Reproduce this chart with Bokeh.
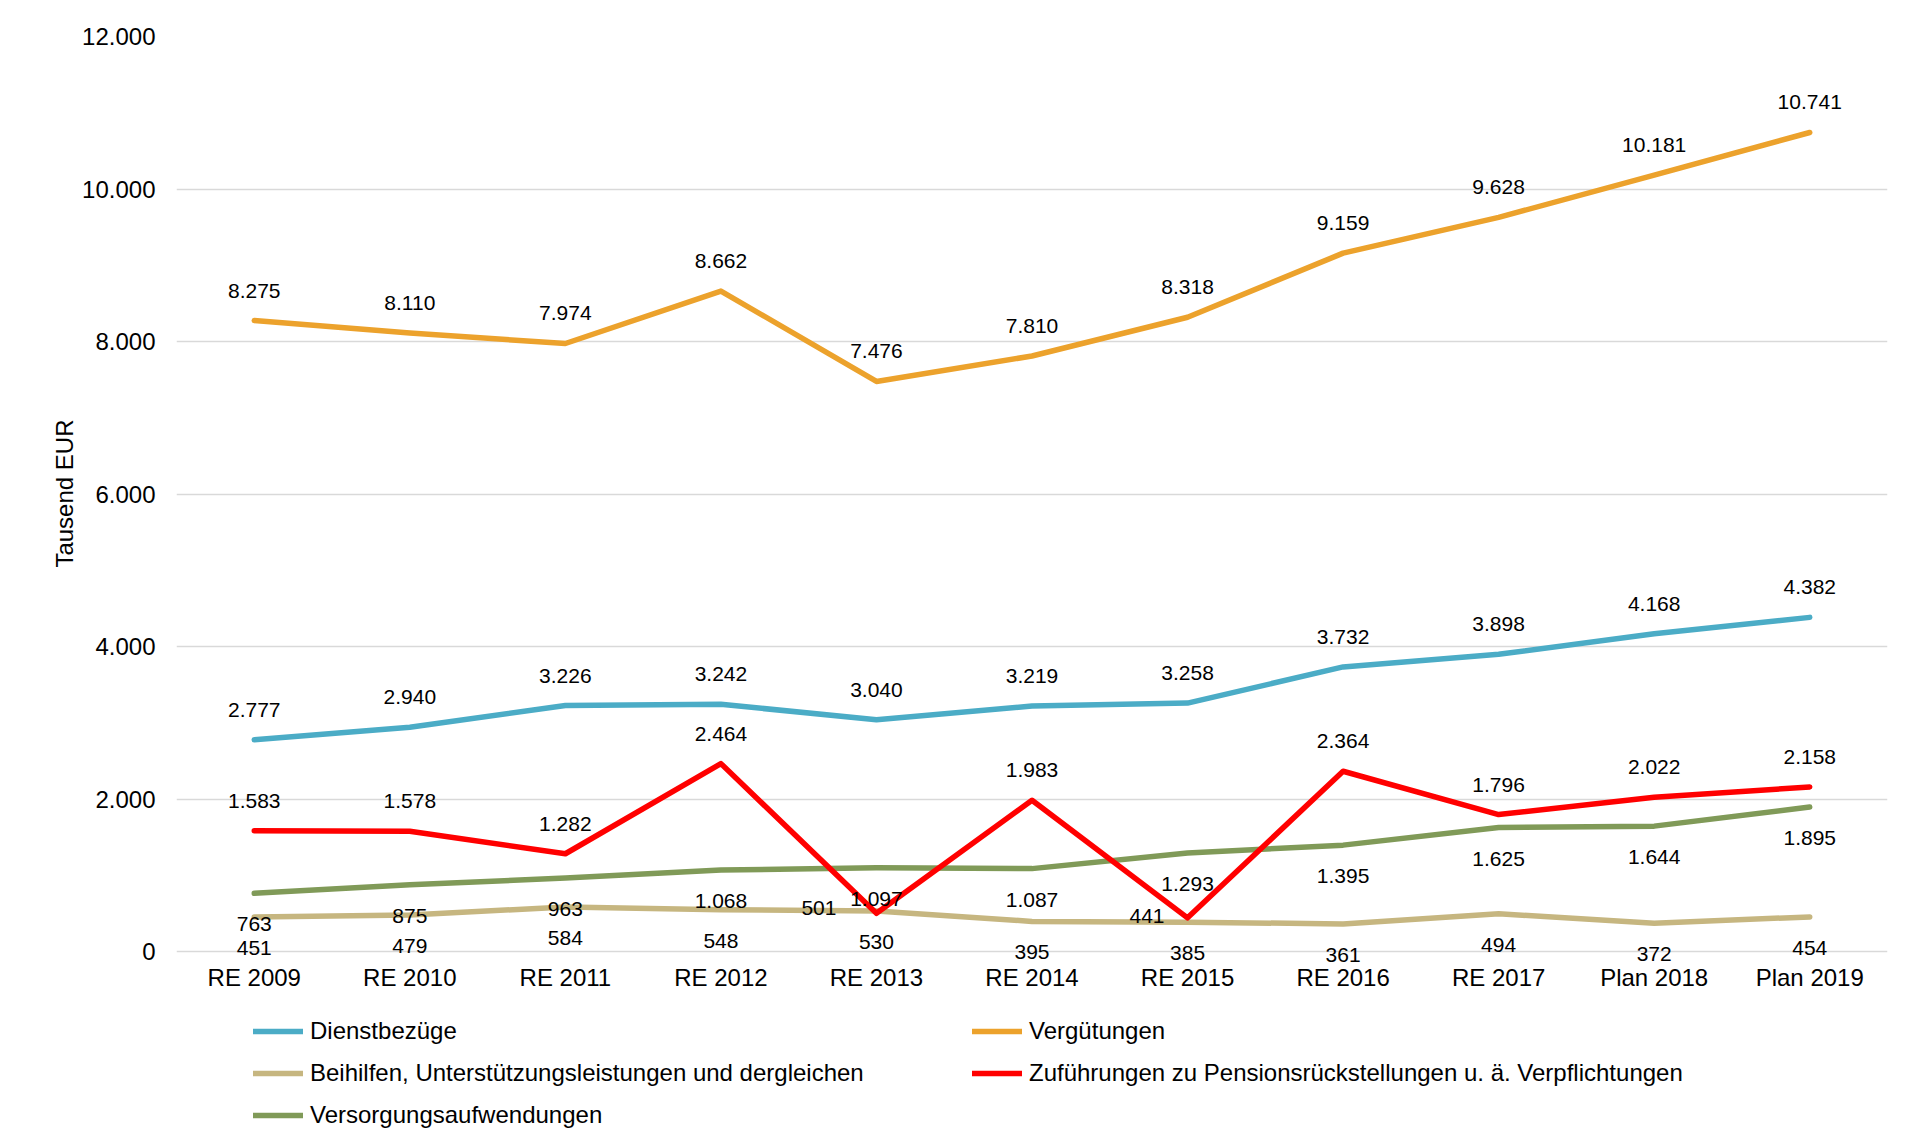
from bokeh.plotting import figure
from bokeh.models import FactorRange, Range1d, FixedTicker, Legend, LegendItem, Title
from bokeh.core.properties import value
from bokeh.embed import file_html
from bokeh.resources import INLINE

categories = ["RE 2009", "RE 2010", "RE 2011", "RE 2012", "RE 2013", "RE 2014",
              "RE 2015", "RE 2016", "RE 2017", "Plan 2018", "Plan 2019"]
dienstbezuege = [2777, 2940, 3226, 3242, 3040, 3219, 3258, 3732, 3898, 4168, 4382]
verguetungen = [8275, 8110, 7974, 8662, 7476, 7810, 8318, 9159, 9628, 10181, 10741]
beihilfen = [451, 479, 584, 548, 530, 395, 385, 361, 494, 372, 454]
zufuehrungen = [1583, 1578, 1282, 2464, 501, 1983, 441, 2364, 1796, 2022, 2158]
versorgung = [763, 875, 963, 1068, 1097, 1087, 1293, 1395, 1625, 1644, 1895]
y_ticks = [0, 2000, 4000, 6000, 8000, 10000, 12000]
y_tick_labels = ["0", "2.000", "4.000", "6.000", "8.000", "10.000", "12.000"]

FONT = "Liberation Sans"
AX_SIZE = "24px"
LAB_SIZE = "21px"

# layout (pixels)
W, H = 1908, 1140
TOP, ZERO_PX, BOTTOM_BORDER = 36, 951, 3
LEFT, RIGHT_BORDER = 176, 21
frame_bottom = H - BOTTOM_BORDER
y_max = 12000
y_min = -y_max * (frame_bottom - ZERO_PX) / (ZERO_PX - TOP)

def fmt(v):
    return f"{v:,}".replace(",", ".")

p = figure(x_range=FactorRange(*categories), y_range=Range1d(y_min, y_max),
           width=W, height=H, output_backend="svg", toolbar_location=None,
           min_border_left=LEFT, min_border_right=RIGHT_BORDER,
           min_border_top=TOP, min_border_bottom=BOTTOM_BORDER)
p.outline_line_color = None
p.background_fill_color = "white"
p.border_fill_color = "white"

# x axis sits at y = 0 inside the frame
p.xaxis.fixed_location = 0
p.xaxis.axis_line_color = None
p.xaxis.major_tick_line_color = None
p.xaxis.minor_tick_line_color = None
p.xaxis.major_tick_out = 0
p.xaxis.major_tick_in = 0
p.xaxis.major_label_standoff = 12
p.xaxis.major_label_text_font = FONT
p.xaxis.major_label_text_font_size = AX_SIZE
p.xaxis.major_label_text_color = "#000000"

p.yaxis.ticker = FixedTicker(ticks=y_ticks)
p.yaxis.major_label_overrides = {t: l for t, l in zip(y_ticks, y_tick_labels)}
p.yaxis.axis_line_color = None
p.yaxis.major_tick_line_color = None
p.yaxis.minor_tick_line_color = None
p.yaxis.major_tick_out = 0
p.yaxis.major_label_standoff = 21
p.yaxis.major_label_text_font = FONT
p.yaxis.major_label_text_font_size = AX_SIZE
p.yaxis.major_label_text_color = "#000000"

# y axis title, centred on the 0..12000 part of the frame
ytitle = Title(text="Tausend EUR", align="right", offset=383, standoff=4,
               text_font=FONT, text_font_size=AX_SIZE, text_font_style="normal",
               text_color="#000000")
p.add_layout(ytitle, "left")

p.xgrid.grid_line_color = None
p.ygrid.ticker = FixedTicker(ticks=y_ticks)
p.ygrid.grid_line_color = "#d9d9d9"
p.ygrid.grid_line_width = 1.5

LW = 5.5
line_kw = dict(line_width=LW, line_cap="round", line_join="round")
r_d = p.line(categories, dienstbezuege, line_color="#4bacc6", **line_kw)
r_g = p.line(categories, verguetungen, line_color="#eca22c", **line_kw)
r_b = p.line(categories, beihilfen, line_color="#c6b680", **line_kw)
r_v = p.line(categories, versorgung, line_color="#809a58", **line_kw)
r_z = p.line(categories, zufuehrungen, line_color="#ff0000", **line_kw)

lab_kw = dict(text_font=value(FONT), text_font_size=LAB_SIZE, text_color="#000000",
              text_baseline="middle")

# labels above the points
for vals in (dienstbezuege, verguetungen):
    p.text(categories, vals, text=[fmt(v) for v in vals], text_align="center",
           y_offset=-30, **lab_kw)
# labels below the points
for vals in (beihilfen, versorgung):
    p.text(categories, vals, text=[fmt(v) for v in vals], text_align="center",
           y_offset=31, **lab_kw)
# Zuführungen: above, except two labels placed left of their point
left_labels = {"RE 2013": (-40, -5), "RE 2015": (-23, -2)}
above_c = [c for c in categories if c not in left_labels]
above_v = [v for c, v in zip(categories, zufuehrungen) if c not in left_labels]
p.text(above_c, above_v, text=[fmt(v) for v in above_v], text_align="center",
       y_offset=-30, **lab_kw)
for c, (dx, dy) in left_labels.items():
    v = zufuehrungen[categories.index(c)]
    p.text([c], [v], text=[fmt(v)], text_align="right", x_offset=dx, y_offset=dy, **lab_kw)

leg_kw = dict(orientation="vertical", border_line_color=None, background_fill_alpha=0,
              padding=0, margin=0, spacing=12, glyph_width=50, glyph_height=30,
              label_height=30, label_standoff=7, label_text_font=FONT,
              label_text_font_size=AX_SIZE, label_text_color="#000000")
leg1 = Legend(items=[LegendItem(label="Dienstbezüge", renderers=[r_d]),
                     LegendItem(label="Beihilfen, Unterstützungsleistungen und dergleichen", renderers=[r_b]),
                     LegendItem(label="Versorgungsaufwendungen", renderers=[r_v])],
              location=(77, frame_bottom - 1130), **leg_kw)
leg2 = Legend(items=[LegendItem(label="Vergütungen", renderers=[r_g]),
                     LegendItem(label="Zuführungen zu Pensionsrückstellungen u. ä. Verpflichtungen", renderers=[r_z])],
              location=(796, frame_bottom - 1088), **leg_kw)
p.add_layout(leg1)
p.add_layout(leg2)

open("out.html", "w").write(file_html(p, INLINE))
